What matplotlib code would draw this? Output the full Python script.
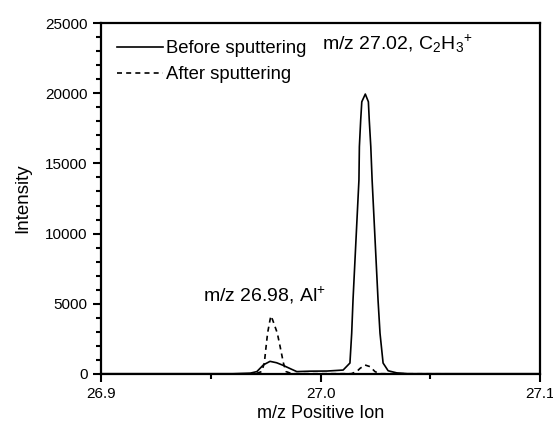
import matplotlib
matplotlib.use("Agg")
import matplotlib.pyplot as plt
from matplotlib.ticker import MultipleLocator

plt.rcParams['font.family'] = ['Liberation Sans', 'DejaVu Sans']
plt.rcParams['mathtext.fontset'] = 'custom'
plt.rcParams['mathtext.rm'] = 'Liberation Sans'
plt.rcParams['mathtext.it'] = 'Liberation Sans'

# Before sputtering (solid)
before_x = [26.900, 26.960, 26.968, 26.9710, 26.9740, 26.9770, 26.9800, 26.9829, 26.9869,
            26.9892, 26.9952, 27.0030, 27.0103, 27.0134, 27.0142, 27.0148, 27.0175, 27.0177,
            27.0183, 27.0188, 27.0204, 27.0218, 27.0222, 27.0229, 27.0235, 27.0262, 27.0271,
            27.0285, 27.0308, 27.0347, 27.0400, 27.1000]
before_y = [20, 20, 60, 170, 650, 900, 800, 620, 330,
            170, 200, 210, 280, 780, 2900, 5270, 13820, 16190,
            18090, 19390, 19940, 19390, 18090, 16190, 13820, 5270, 2900,
            780, 230, 80, 20, 20]

# After sputtering (dashed)
after_x = [26.900, 26.970, 26.9732, 26.9744, 26.9752, 26.9759, 26.9770, 26.9774, 26.9782,
           26.9803, 26.9816, 26.9831, 26.9843, 26.9870, 27.0140, 27.0165, 27.0180, 27.0203,
           27.0226, 27.0248, 27.0270, 27.1000]
after_y = [0, 0, 170, 780, 1950, 2920, 3850, 4130, 3850,
           2920, 1950, 780, 170, 20, 20, 170, 400, 640,
           520, 170, 20, 0]

xticks = [26.9, 27.0, 27.1]
xtick_labels = ["26.9", "27.0", "27.1"]
yticks = [0, 5000, 10000, 15000, 20000, 25000]

fig = plt.figure(figsize=(5.53, 4.28), dpi=100)
ax = fig.add_axes([0.1826, 0.1262, 0.794, 0.82])

ax.plot(before_x, before_y, color='black', lw=1.2, ls='-', label='Before sputtering')
ax.plot(after_x, after_y, color='black', lw=1.2, ls=(0, (3, 2.5)), label='After sputtering')

ax.set_xlim(26.9, 27.1)
ax.set_ylim(0, 25000)
ax.set_xticks(xticks)
ax.set_xticklabels(xtick_labels)
ax.set_yticks(yticks)
ax.xaxis.set_minor_locator(MultipleLocator(0.05))
ax.yaxis.set_minor_locator(MultipleLocator(1000))
ax.tick_params(which='major', direction='out', length=6, width=1.5, labelsize=11,
               top=False, right=False)
ax.tick_params(which='minor', direction='out', length=3.5, width=1.5, top=False, right=False)
for s in ax.spines.values():
    s.set_linewidth(1.6)

ax.set_xlabel('m/z Positive Ion', fontsize=13, labelpad=3)
ax.set_ylabel('Intensity', fontsize=13.5, labelpad=10)

ax.legend(loc='upper left', frameon=False, fontsize=13.3, handlelength=2.5,
          handletextpad=0.15, labelspacing=0.5, borderaxespad=0.0,
          bbox_to_anchor=(0.019, 0.972))

ax.text(27.0007, 23500, r'm/z 27.02, C$_2$H$_3$$^{+}$', fontsize=14, va='center', ha='left')
ax.text(26.9465, 5600, r'm/z 26.98, Al$^{+}$', fontsize=14, va='center', ha='left')

fig.savefig('out.png', dpi=100)
